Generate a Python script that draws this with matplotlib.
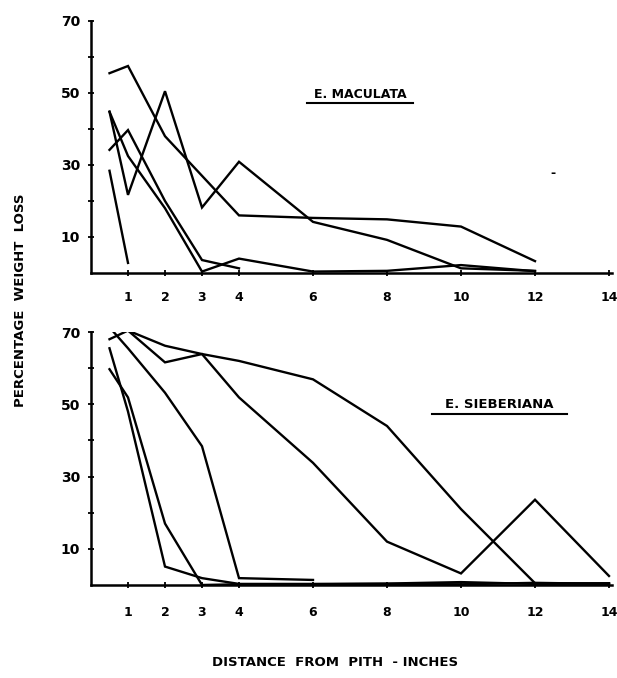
import numpy as np
import matplotlib
matplotlib.use("Agg")
import matplotlib.pyplot as plt

plt.rcParams['font.family'] = ['DejaVu Sans']

# ---- data ----
x_ticks = [1, 2, 3, 4, 6, 8, 10, 12, 14]
y_ticks = [10, 20, 30, 40, 50, 60, 70]
y_tick_labels = ['10', '', '30', '', '50', '', '70']

# E. maculata (top panel)
mac_x = [0.5, 1, 2, 3, 4, 6, 8, 10, 12]
mac_a = [55.5, 57.5, 38, 27, 16, 15.3, 14.9, 12.9, 3.3]
mac_b = [34.2, 39.7, 20, 3.6, 1.3, np.nan, np.nan, np.nan, np.nan]
mac_c = [44.8, 32.5, 18, 0.4, 4, 0.4, 0.6, 2.2, 0.5]
mac_d = [28.4, 2.8, np.nan, np.nan, np.nan, np.nan, np.nan, np.nan, np.nan]
mac_e = [44.8, 21.7, 50.5, 18.2, 30.9, 14.2, 9.2, 1.3, 0.6]

# E. sieberiana (bottom panel)
sie_x = [0.5, 1, 2, 3, 4, 6, 8, 10, 12, 14]
sie_a = [71.3, 70.4, 66.2, 63.9, 62, 56.9, 44, 21, 0.5, 0.4]
sie_b = [68, 70.4, 61.6, 63.9, 51.9, 33.8, 12, 3.2, 23.6, 2.5]
sie_c = [71.3, 65.5, 53.2, 38.4, 1.9, 1.4, np.nan, np.nan, np.nan, np.nan]
sie_d = [65.5, 48, 5.1, 1.9, 0.3, 0.3, 0.4, 0.8, 0.3, 0.5]
sie_e = [59.7, 51.9, 17, 0, 0.2, 0.2, 0.3, 0.2, 0.6, 0.3]

title_top = "E. MACULATA"
title_bottom = "E. SIEBERIANA"
ylabel = "PERCENTAGE  WEIGHT  LOSS"
xlabel = "DISTANCE  FROM  PITH  - INCHES"

W, H = 617, 678
fig = plt.figure(figsize=(W / 100, H / 100), dpi=100)
ax1 = fig.add_axes([91 / W, 405 / H, 521 / W, 252 / H])
ax2 = fig.add_axes([91 / W, 93 / H, 521 / W, 253 / H])

lw = 1.7
for ys in [mac_a, mac_b, mac_c, mac_d, mac_e]:
    ax1.plot(mac_x, ys, color='black', lw=lw, solid_joinstyle='miter')
for ys in [sie_a, sie_b, sie_c, sie_d, sie_e]:
    ax2.plot(sie_x, ys, color='black', lw=lw, solid_joinstyle='miter')

for ax, xpad in [(ax1, 11), (ax2, 13)]:
    ax.set_xlim(0, 521 / 37)
    ax.set_ylim(0, 70)
    ax.spines['top'].set_visible(False)
    ax.spines['right'].set_visible(False)
    ax.spines['left'].set_linewidth(1.8)
    ax.spines['bottom'].set_linewidth(1.8)
    ax.set_xticks(x_ticks)
    ax.set_xticklabels([str(v) for v in x_ticks], fontsize=9, fontweight='bold')
    ax.set_yticks(y_ticks)
    ax.set_yticklabels(y_tick_labels, fontsize=10, fontweight='bold')
    ax.tick_params(axis='x', direction='inout', length=4, width=1.3, pad=xpad)
    ax.tick_params(axis='y', direction='inout', length=4, width=1.3, pad=6)
    ax.set_facecolor('white')

fig.text(360 / W, 1 - 95 / H, title_top, fontsize=9, fontweight='bold',
         ha='center', va='center')
fig.text(499 / W, 1 - 405 / H, title_bottom, fontsize=9.5, fontweight='bold',
         ha='center', va='center')

# underline titles via figure coordinates
fig.lines.append(plt.Line2D([307 / W, 413 / W], [1 - 103 / H, 1 - 103 / H],
                            transform=fig.transFigure, color='black', lw=1.5))
fig.lines.append(plt.Line2D([432 / W, 567 / W], [1 - 414 / H, 1 - 414 / H],
                            transform=fig.transFigure, color='black', lw=1.5))

# stray dash in the top panel
fig.text(553 / W, 1 - 174 / H, '-', fontsize=9, fontweight='bold', ha='center', va='center')

fig.text(21 / W, 1 - 300 / H, ylabel, rotation=90, fontsize=9.5, fontweight='bold',
         ha='center', va='center')
fig.text(335 / W, 1 - 663 / H, xlabel, fontsize=9.5, fontweight='bold',
         ha='center', va='center')

fig.savefig('out.png', dpi=100, facecolor='white')
